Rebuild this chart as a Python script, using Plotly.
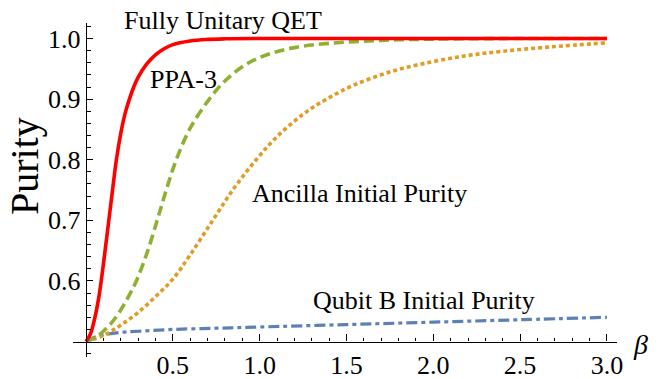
import plotly.graph_objects as go

# ---- data ----
red_x = [0, 0.025, 0.05, 0.075, 0.1, 0.125, 0.15, 0.175, 0.2, 0.225, 0.25, 0.275, 0.3, 0.35, 0.4, 0.45, 0.5, 0.6, 0.7, 0.8, 1.0, 3.0]
red_y = [0.5, 0.512, 0.538, 0.575, 0.627, 0.685, 0.743, 0.8, 0.843, 0.876, 0.9, 0.92, 0.936, 0.958, 0.973, 0.983, 0.99, 0.996, 0.9985, 0.9995, 1.0, 1.0]

green_x = [0, 0.05, 0.1, 0.15, 0.2, 0.25, 0.29, 0.35, 0.41, 0.46, 0.52, 0.6, 0.71, 0.8, 0.925, 1.05, 1.2, 1.4, 1.7, 2.0, 2.5, 3.0]
green_y = [0.5, 0.506, 0.517, 0.532, 0.552, 0.577, 0.6, 0.645, 0.7, 0.748, 0.8, 0.852, 0.9, 0.93, 0.958, 0.974, 0.985, 0.992, 0.997, 0.999, 1.0, 1.0]

orange_x = [0, 0.1, 0.2, 0.3, 0.4, 0.5, 0.6, 0.73, 0.85, 0.98, 1.1, 1.25, 1.385, 1.55, 1.77, 2.0, 2.2, 2.4, 2.67, 3.0]
orange_y = [0.5, 0.51, 0.527, 0.548, 0.574, 0.603, 0.643, 0.7, 0.752, 0.8, 0.838, 0.875, 0.9, 0.924, 0.9465, 0.962, 0.972, 0.979, 0.986, 0.993]

blue_x = [0, 0.02, 0.05, 0.1, 0.2, 0.3, 0.5, 0.75, 1.0, 1.5, 2.0, 2.5, 3.0]
blue_y = [0.5, 0.503, 0.507, 0.511, 0.515, 0.517, 0.52, 0.522, 0.524, 0.528, 0.532, 0.536, 0.540]

x_ticks = [0.5, 1.0, 1.5, 2.0, 2.5, 3.0]
x_ticklabels = ["0.5", "1.0", "1.5", "2.0", "2.5", "3.0"]
y_ticks = [0.6, 0.7, 0.8, 0.9, 1.0]
y_ticklabels = ["0.6", "0.7", "0.8", "0.9", "1.0"]

labels = ["Fully Unitary QET", "PPA-3", "Ancilla Initial Purity", "Qubit B Initial Purity"]

# ---- layout geometry ----
W, H = 661, 379
ML, MR, MT, MB = 73, 44, 23, 22
XR = [-0.0748, 3.058]
YR = [0.4745, 1.0256]
FONT = "Liberation Serif"

fig = go.Figure()
fig.add_trace(go.Scatter(x=blue_x, y=blue_y, mode="lines", line=dict(color="#5E81B5", width=3.2, dash="11px,4px,4px,4px", shape="spline")))
fig.add_trace(go.Scatter(x=orange_x, y=orange_y, mode="lines", line=dict(color="#E19C24", width=3.6, dash="4px,3px", shape="spline")))
fig.add_trace(go.Scatter(x=green_x, y=green_y, mode="lines", line=dict(color="#8FB032", width=3.6, dash="10px,5px", shape="spline")))
fig.add_trace(go.Scatter(x=red_x, y=red_y, mode="lines", line=dict(color="#FF0000", width=3.6, shape="spline")))

xpos = (0.5 - YR[0]) / (YR[1] - YR[0])
ypos = (0 - XR[0]) / (XR[1] - XR[0])

x_minor = [round(0.1 * i, 2) for i in range(1, 31) if i % 5 != 0]
y_minor = [round(0.48 + 0.02 * i, 2) for i in range(0, 28) if (i + 4) % 5 != 0 and 0.48 + 0.02 * i <= 1.025]

fig.update_layout(
    width=W, height=H,
    margin=dict(l=ML, r=MR, t=MT, b=MB, pad=0, autoexpand=False),
    paper_bgcolor="white", plot_bgcolor="white",
    showlegend=False,
    font=dict(family=FONT, color="black"),
    xaxis=dict(range=XR, showgrid=False, zeroline=False, showline=True, linecolor="black", linewidth=1.4,
               anchor="free", position=xpos, automargin=False,
               tickmode="array", tickvals=x_ticks, ticktext=x_ticklabels,
               ticks="inside", ticklen=7, tickwidth=1.2, tickcolor="black",
               tickfont=dict(family=FONT, size=26, color="black"),
               minor=dict(tickmode="array", tickvals=x_minor, ticks="inside", ticklen=3.5, tickwidth=1, tickcolor="black")),
    yaxis=dict(range=YR, showgrid=False, zeroline=False, showline=True, linecolor="black", linewidth=1.4,
               anchor="free", position=ypos, automargin=False,
               tickmode="array", tickvals=y_ticks, ticktext=y_ticklabels,
               ticks="inside", ticklen=6, tickwidth=1.2, tickcolor="black",
               tickfont=dict(family=FONT, size=26, color="black"),
               minor=dict(tickmode="array", tickvals=y_minor, ticks="inside", ticklen=3.5, tickwidth=1, tickcolor="black")),
)

def px2paper(px, py):
    return (px - ML) / (W - ML - MR), (H - MB - py) / (H - MT - MB)

label_pos = [(122, 20), (148, 79), (250, 193), (311, 300)]
for txt, (px, py) in zip(labels, label_pos):
    ax, ay = px2paper(px, py)
    fig.add_annotation(text=txt, x=ax, y=ay, xref="paper", yref="paper", xanchor="left", yanchor="middle",
                       showarrow=False, font=dict(family=FONT, size=26, color="black"))

bx, by = px2paper(631, 344)
fig.add_annotation(text="<i>β</i>", x=bx, y=by, xref="paper", yref="paper", xanchor="left", yanchor="middle",
                   showarrow=False, font=dict(family=FONT, size=28, color="black"))

px_, py_ = px2paper(24, 166)
fig.add_annotation(text="Purity", x=px_, y=py_, xref="paper", yref="paper", xanchor="center", yanchor="middle",
                   textangle=-90, showarrow=False, font=dict(family=FONT, size=40, color="black"))

fig.write_html("out.html", config={"displayModeBar": False}, post_script="document.body.style.margin='0';")
